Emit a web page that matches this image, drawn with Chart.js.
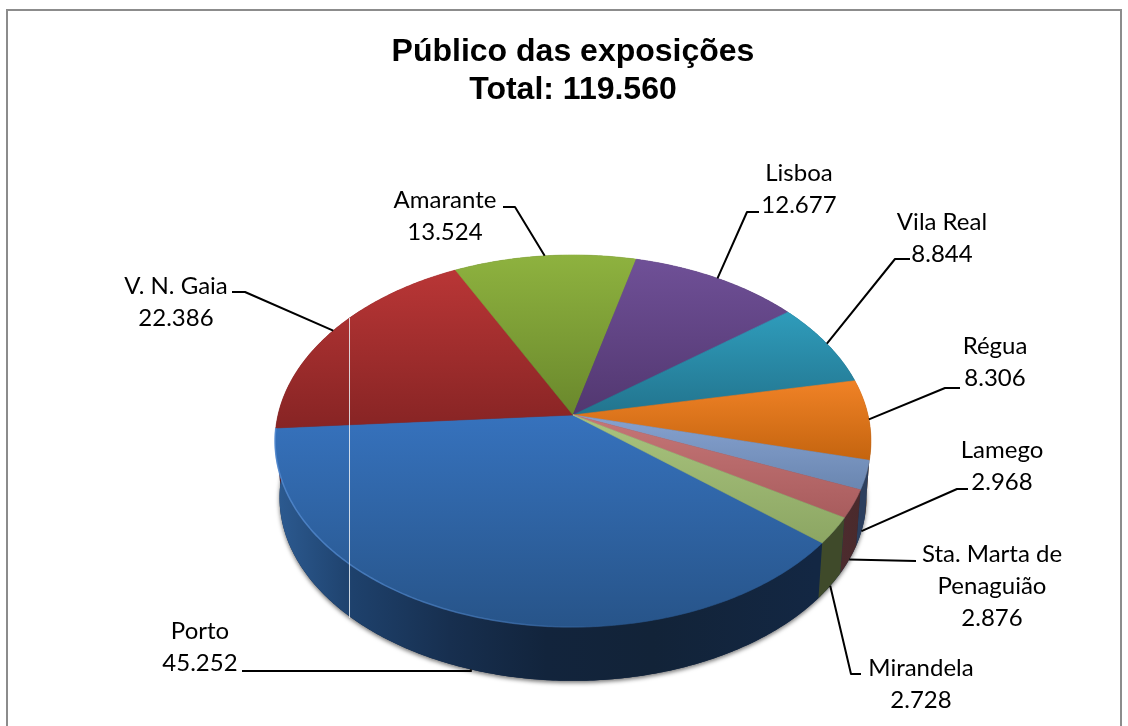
<!DOCTYPE html>
<html>
<head>
<meta charset="utf-8">
<title>Público das exposições</title>
<style>
  html, body { margin: 0; padding: 0; background: #fff; }
  canvas { display: block; }
</style>
<script src="https://cdn.jsdelivr.net/npm/chart.js@4/dist/chart.umd.min.js"></script>
</head>
<body>
<canvas id="pie" width="1128" height="726"></canvas>
<script>
const categories = ["Porto", "V. N. Gaia", "Amarante", "Lisboa", "Vila Real", "Régua", "Lamego", ["Sta. Marta de", "Penaguião"], "Mirandela"];
const visitors = [45252, 22386, 13524, 12677, 8844, 8306, 2968, 2876, 2728];
const titleLines = ["Público das exposições", "Total: 119.560"];

// cor do topo de cada fatia (claro em cima, escuro em baixo)
const lightColors = ["#3672bd", "#b93636", "#8eb23f", "#6f5097", "#2f9cbb", "#f08226", "#86a2d0", "#c67677", "#a9c47e"];
const darkColors = ["#275489", "#872424", "#6a882c", "#523770", "#22748e", "#c4640f", "#6a86b0", "#a85c5d", "#8ca663"];
// parede lateral: paragens do gradiente da esquerda para a direita
const wallColors = [
  ["#2c5a90", "#1e416c", "#172f4f", "#12243c", "#122338", "#132743"],
  ["#5c1818", "#5c1818"], ["#4a5c1e", "#4a5c1e"], ["#38264c", "#38264c"],
  ["#174e60", "#174e60"], ["#8a4a12", "#7a3e0c"], ["#2c3f5e", "#2c3f5e"],
  ["#4c2b2e", "#4a2a2c"], ["#3f4a2a", "#3f4a2a"]
];

// posicao dos rotulos: centro do texto, y da 1a linha, e cotovelo da guia
const labelLayout = [
  { x: 200, y: 631, elbow: [[471, 671], [242, 671]] },
  { x: 176, y: 286, elbow: [[245, 292], [232, 292]] },
  { x: 445, y: 200, elbow: [[515, 207], [503, 207]] },
  { x: 799, y: 173, elbow: [[747, 212], [759, 212]] },
  { x: 942, y: 222, elbow: [[895, 259], [910, 259]] },
  { x: 995, y: 346, elbow: [[945, 388], [960, 388]] },
  { x: 1002, y: 450, elbow: [[957, 489], [968, 489]] },
  { x: 992, y: 554, elbow: [[916, 561]] },
  { x: 921, y: 668, elbow: [[851, 674], [861, 674]] }
];

// perspectiva do disco: u,v no circulo unitario, v positivo para o observador
const view = { cx: 573, cy: 415, rx: 295, ry: 182.4, k: 0.1398, wallY: 57, wallScale: 0.985 };

function topPoint(a) {
  const d = 1 - view.k * Math.sin(a);
  return [view.cx + view.rx * Math.cos(a) / d, view.cy + view.ry * Math.sin(a) / d];
}
function bottomPoint(a) {
  const d = 1 - view.k * Math.sin(a);
  return [view.cx + view.wallScale * view.rx * Math.cos(a) / d,
          view.cy + view.wallY + view.wallScale * view.ry * Math.sin(a) / d];
}
function arcPoints(fn, from, to) {
  const pts = [];
  const n = Math.max(2, Math.ceil((to - from) / 0.01));
  for (let i = 0; i <= n; i++) pts.push(fn(from + (to - from) * i / n));
  return pts;
}
function tracePoly(ctx, pts) {
  ctx.beginPath();
  pts.forEach((p, i) => i ? ctx.lineTo(p[0], p[1]) : ctx.moveTo(p[0], p[1]));
  ctx.closePath();
}
function fmt(n) {
  return String(n).replace(/\B(?=(\d{3})+$)/g, ".");
}

const pie3d = {
  id: "pie3d",
  beforeDraw(chart) {
    const ctx = chart.ctx;
    ctx.save();
    ctx.fillStyle = "#fff";
    ctx.fillRect(0, 0, chart.width, chart.height);
    ctx.strokeStyle = "#8c8c8c";
    ctx.lineWidth = 2;
    ctx.strokeRect(7, 10, 1114, 740);
    ctx.restore();
  },
  beforeDatasetDraw(chart, args) {
    const ctx = chart.ctx;
    const arcs = chart.getDatasetMeta(args.index).data.map(el => el.getProps(["startAngle", "endAngle"], true));
    ctx.save();

    // sombra e base
    ctx.save();
    ctx.shadowColor = "rgba(0,0,0,0.55)";
    ctx.shadowBlur = 4;
    ctx.shadowOffsetY = 2;
    tracePoly(ctx, arcPoints(bottomPoint, 0, Math.PI * 2));
    ctx.fillStyle = "#14294a";
    ctx.fill();
    ctx.restore();

    // paredes
    arcs.forEach((arc, i) => {
      const up = arcPoints(topPoint, arc.startAngle, arc.endAngle);
      const down = arcPoints(bottomPoint, arc.startAngle, arc.endAngle).reverse();
      const poly = up.concat(down);
      const xs = poly.map(p => p[0]);
      const x0 = i === 0 ? 278 : Math.min(...xs);
      const x1 = i === 0 ? 815 : Math.max(...xs);
      const grad = ctx.createLinearGradient(x0, 0, x1, 0);
      const stops = i === 0 ? [0, 0.14, 0.32, 0.5, 0.7, 1] : wallColors[i].map((c, j) => j / (wallColors[i].length - 1));
      wallColors[i].forEach((c, j) => grad.addColorStop(stops[j], c));
      tracePoly(ctx, poly);
      ctx.fillStyle = grad;
      ctx.fill();
    });

    // topo
    arcs.forEach((arc, i) => {
      const poly = [[view.cx, view.cy]].concat(arcPoints(topPoint, arc.startAngle, arc.endAngle));
      const ys = poly.map(p => p[1]);
      const grad = ctx.createLinearGradient(0, Math.min(...ys), 0, Math.max(...ys));
      grad.addColorStop(0, lightColors[i]);
      grad.addColorStop(1, darkColors[i]);
      tracePoly(ctx, poly);
      ctx.fillStyle = grad;
      ctx.strokeStyle = grad;
      ctx.lineWidth = 0.6;
      ctx.fill();
      ctx.stroke();
    });

    // brilho na aresta da frente
    const rim = ctx.createLinearGradient(280, 0, 620, 0);
    rim.addColorStop(0, "rgba(85,140,210,0.8)");
    rim.addColorStop(0.7, "rgba(85,140,210,0.4)");
    rim.addColorStop(1, "rgba(85,140,210,0)");
    const edge = arcPoints(topPoint, arcs[0].startAngle, arcs[0].endAngle);
    ctx.beginPath();
    edge.forEach((p, i) => i ? ctx.lineTo(p[0], p[1]) : ctx.moveTo(p[0], p[1]));
    ctx.strokeStyle = rim;
    ctx.lineWidth = 1.5;
    ctx.stroke();

    // risco branco que existe na imagem original
    ctx.beginPath();
    ctx.moveTo(349.5, 318);
    ctx.lineTo(349.5, 618);
    ctx.strokeStyle = "rgba(235,240,245,0.85)";
    ctx.lineWidth = 1;
    ctx.stroke();

    ctx.restore();
    return false;
  },
  afterDraw(chart) {
    const ctx = chart.ctx;
    const arcs = chart.getDatasetMeta(0).data.map(el => el.getProps(["startAngle", "endAngle"], true));
    ctx.save();
    ctx.strokeStyle = "#000";
    ctx.lineWidth = 2;
    ctx.lineJoin = "round";
    arcs.forEach((arc, i) => {
      const mid = (arc.startAngle + arc.endAngle) / 2;
      const start = Math.sin(mid) > 0.2 ? bottomPoint(mid) : topPoint(mid);
      ctx.beginPath();
      ctx.moveTo(start[0], start[1]);
      labelLayout[i].elbow.forEach(p => ctx.lineTo(p[0], p[1]));
      ctx.stroke();
    });
    ctx.fillStyle = "#000";
    ctx.font = "24px Lato";
    ctx.textAlign = "center";
    ctx.textBaseline = "middle";
    categories.forEach((name, i) => {
      const lines = [].concat(name, fmt(visitors[i]));
      lines.forEach((line, j) => ctx.fillText(line, labelLayout[i].x, labelLayout[i].y + j * 32));
    });
    ctx.restore();
  }
};

new Chart(document.getElementById("pie"), {
  type: "pie",
  data: {
    labels: categories,
    datasets: [{ data: visitors, backgroundColor: lightColors, borderWidth: 0 }]
  },
  options: {
    responsive: false,
    animation: false,
    rotation: 129.7,
    layout: { padding: { left: 18, top: 26 } },
    plugins: {
      legend: { display: false },
      tooltip: { enabled: false },
      title: {
        display: true,
        text: titleLines,
        color: "#000",
        font: { family: "'Liberation Sans'", size: 32, weight: "bold", lineHeight: 1.16 },
        padding: { top: 8, bottom: 10 }
      }
    }
  },
  plugins: [pie3d]
});
</script>
</body>
</html>
